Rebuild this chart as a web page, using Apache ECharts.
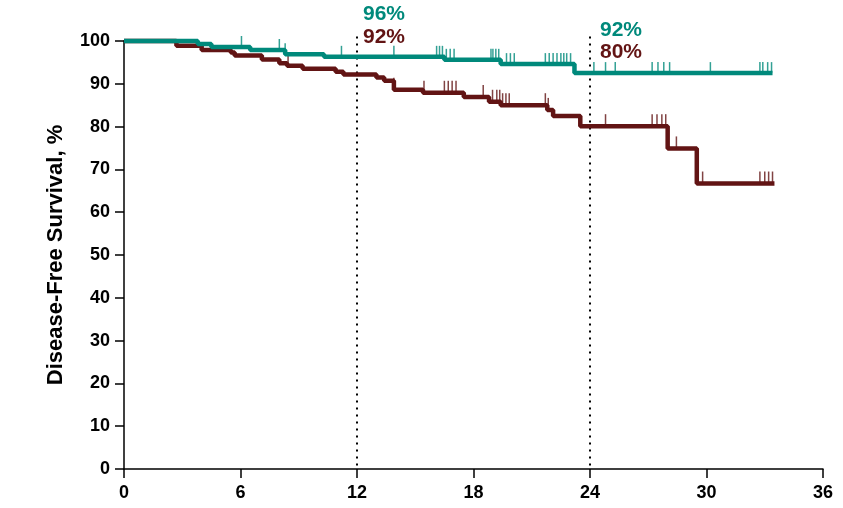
<!DOCTYPE html>
<html>
<head>
<meta charset="utf-8">
<script src="https://cdn.jsdelivr.net/npm/echarts@6/dist/echarts.min.js"></script>
<style>
html, body { margin: 0; background: #fff; }
#main { width: 843px; height: 508px; }
</style>
</head>
<body>
<div id="main"></div>
<script>
// KM step curves: [month, survival %] - value holds from that month on
const tealCurve = [[0, 100], [3.8, 99.3], [4.5, 98.6], [6.5, 97.9], [8.3, 96.9], [10.3, 96.3],
  [16.5, 95.6], [19.4, 94.6], [23.2, 92.5], [33.4, 92.5]];
const maroonCurve = [[0, 100], [2.7, 98.9], [4.0, 97.9], [5.5, 97.3], [5.7, 96.6], [7.1, 95.7],
  [8.0, 94.8], [8.4, 94.2], [9.2, 93.5], [10.9, 92.8], [11.3, 92.2], [13.0, 91.5], [13.4, 90.7],
  [13.9, 88.6], [15.4, 87.9], [17.5, 86.9], [18.8, 85.8], [19.4, 85.0], [21.8, 83.9], [22.1, 82.5],
  [23.5, 80.1], [28.0, 74.9], [29.5, 66.7], [33.5, 66.7]];

// censoring times (months)
const tealCensor = [6.05, 8.0, 8.3, 11.2, 13.9, 16.1, 16.25, 16.4, 16.6, 16.8, 17.0, 18.9, 19.0, 19.15,
  19.3, 19.7, 19.9, 20.1, 21.7, 21.9, 22.1, 22.3, 22.5, 22.65, 22.8, 23.0, 24.2, 24.8, 25.3,
  27.2, 27.5, 27.8, 28.1, 30.2, 32.75, 32.9, 33.15, 33.35];
const maroonCensor = [8.45, 13.9, 15.45, 16.5, 16.7, 16.9, 17.1, 18.5, 18.98, 19.2, 19.35, 19.5,
  19.67, 19.84, 21.7, 21.85, 23.5, 24.8, 27.2, 27.45, 27.7, 27.9, 28.45, 29.8, 32.75, 33.0, 33.2, 33.4];

// landmark lines and their labels
const landmarks = [12, 24];
const tealLabels = ['96%', '92%'];
const maroonLabels = ['92%', '80%'];

const xTicks = [0, 6, 12, 18, 24, 30, 36];

const TEAL = '#00897b';
const MAROON = '#621414';
const FONT = '"Liberation Sans", Arial, sans-serif';

function survAt(curve, t) {
  let v = curve[0][1];
  for (const p of curve) { if (p[0] <= t) v = p[1]; }
  return v;
}

const chart = echarts.init(document.getElementById('main'));

const series = [];
// dotted landmark lines
landmarks.forEach(function (m) {
  series.push({
    type: 'line', data: [[m, 0.8], [m, 101.5]], symbol: 'none', clip: false, silent: true,
    lineStyle: { color: '#000', width: 2, type: [2, 5] }, z: 1
  });
});
series.push({
  type: 'line', step: 'end', data: maroonCurve, symbol: 'none', clip: false,
  lineStyle: { color: MAROON, width: 4.5 }, z: 3
});
series.push({
  type: 'scatter', data: maroonCensor.map(t => [t, survAt(maroonCurve, t)]),
  symbol: 'rect', symbolSize: [1.5, 12], symbolOffset: [0, -6], clip: false,
  itemStyle: { color: MAROON }, z: 3
});
series.push({
  type: 'line', step: 'end', data: tealCurve, symbol: 'none', clip: false,
  lineStyle: { color: TEAL, width: 4.5 }, z: 4
});
series.push({
  type: 'scatter', data: tealCensor.map(t => [t, survAt(tealCurve, t)]),
  symbol: 'rect', symbolSize: [1.5, 11], symbolOffset: [0, -5.5], clip: false,
  itemStyle: { color: TEAL }, z: 4
});

chart.setOption({
  animation: false,
  grid: { left: 124, right: 20, top: 41, bottom: 39 },
  xAxis: {
    type: 'value', min: 0, max: 36, interval: 6,
    axisLine: { lineStyle: { color: '#000', width: 1.5 } },
    axisTick: { length: 9, lineStyle: { color: '#000', width: 1.5 } },
    axisLabel: { margin: 15, color: '#000', fontSize: 18, fontWeight: 'bold', fontFamily: FONT,
      customValues: xTicks },
    splitLine: { show: false }
  },
  yAxis: {
    type: 'value', min: 0, max: 100, interval: 10,
    name: 'Disease-Free Survival, %', nameLocation: 'middle', nameGap: 57,
    nameTextStyle: { color: '#000', fontSize: 22, fontWeight: 'bold', fontFamily: FONT },
    axisLine: { show: true, lineStyle: { color: '#000', width: 1.5 } },
    axisTick: { show: true, length: 9, lineStyle: { color: '#000', width: 1.5 } },
    axisLabel: { margin: 14, color: '#000', fontSize: 18, fontWeight: 'bold', fontFamily: FONT },
    splitLine: { show: false }
  },
  series: series
});

// percentage labels next to the landmark lines
const labelGap = [6, 10];
const labelTop = [[14, 37], [30, 52]];
const graphics = [];
landmarks.forEach(function (m, i) {
  const x = chart.convertToPixel({ gridIndex: 0 }, [m, 0])[0] + labelGap[i];
  graphics.push({
    type: 'text', x: x, y: labelTop[i][0],
    style: { text: tealLabels[i], fill: TEAL, font: 'bold 21px ' + FONT, textVerticalAlign: 'middle' }
  });
  graphics.push({
    type: 'text', x: x, y: labelTop[i][1],
    style: { text: maroonLabels[i], fill: MAROON, font: 'bold 21px ' + FONT, textVerticalAlign: 'middle' }
  });
});
chart.setOption({ graphic: graphics });
</script>
</body>
</html>
